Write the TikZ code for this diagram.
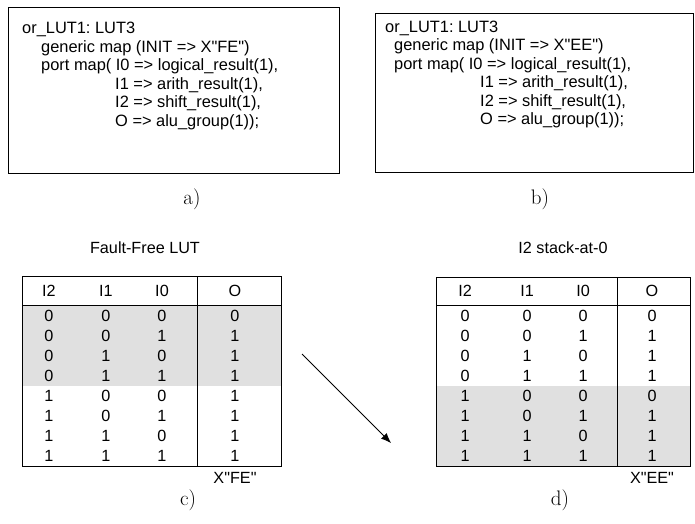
\documentclass[tikz,border=0pt]{standalone}
\usepackage{fontspec}
\usetikzlibrary{arrows.meta}
\newfontfamily\arialfont{Liberation Sans}
\frenchspacing
\tikzstyle{codebox}=[shape=rectangle,draw=black,line width=0.8pt,inner sep=0pt]
\tikzstyle{code}=[anchor=base west,inner sep=0pt,font=\arialfont\fontsize{16.4}{19}\selectfont]

\begin{document}
\begin{tikzpicture}[x=1pt,y=-1pt]
\tikzstyle{cell}=[inner sep=0pt,font=\arialfont\fontsize{16.2}{19}\selectfont]
\tikzstyle{caption}=[inner sep=0pt,font=\fontsize{21}{24}\selectfont]
\tikzstyle{lut}=[draw=black,line width=0.8pt]
\tikzstyle{faulty}=[fill=black!12]
\useasboundingbox (0,0) rectangle (695,523);
% code boxes
\node[codebox,minimum width=331pt,minimum height=166pt] (boxA) at (173.5,90) {};
\node[code] (a1) at (22,33.5) {or\_LUT1: LUT3};
\node[code] (a2) at (41,52) {generic map (INIT => X"FE")};
\node[code] (a3) at (41,70.5) {port map( I0 => logical\_result(1),};
\node[code] (a4) at (115,89) {I1 => arith\_result(1),};
\node[code] (a5) at (115,107.5) {I2 => shift\_result(1),};
\node[code] (a6) at (115,126) {O => alu\_group(1));};
\node[caption] (capA) at (192,199) {a)};
\node[codebox,minimum width=318pt,minimum height=159pt] (boxB) at (534,92.5) {};
\node[code] (b1) at (385,32) {or\_LUT1: LUT3};
\node[code] (b2) at (394,50.5) {generic map (INIT => X"EE")};
\node[code] (b3) at (394,69) {port map( I0 => logical\_result(1),};
\node[code] (b4) at (480,87.5) {I1 => arith\_result(1),};
\node[code] (b5) at (480,106) {I2 => shift\_result(1),};
\node[code] (b6) at (480,124.5) {O => alu\_group(1));};
\node[caption] (capB) at (540,199) {b)};
% fault-free table
\node[cell] (titleC) at (145,248) {Fault-Free LUT};
\fill[faulty] (22,305) rectangle (281,386);
\draw[lut] (22,276) rectangle (281,466);
\draw[lut] (22,305) -- (281,305);
\draw[lut] (197,276) -- (197,466);
\node[cell] (hC2) at (49,291) {I2};
\node[cell] (hC1) at (106,291) {I1};
\node[cell] (hC0) at (162,291) {I0};
\node[cell] (hCo) at (235,291) {O};
\foreach \x/\y/\z/\o [count=\r] in {0/0/0/0,0/0/1/1,0/1/0/1,0/1/1/1,1/0/0/1,1/0/1/1,1/1/0/1,1/1/1/1} {
  \node[cell] (c\r i2) at (49,296+\r*20) {\x};
  \node[cell] (c\r i1) at (106,296+\r*20) {\y};
  \node[cell] (c\r i0) at (162,296+\r*20) {\z};
  \node[cell] (c\r o) at (235,296+\r*20) {\o};
}
\node[cell] (initC) at (235,477.5) {X"FE"};
\node[caption] (capC) at (188,500) {c)};
% stuck-at table
\node[cell] (titleD) at (563,248) {I2 stack-at-0};
\fill[faulty] (436,386) rectangle (690,466);
\draw[lut] (436,277) rectangle (690,466);
\draw[lut] (436,305) -- (690,305);
\draw[lut] (617,277) -- (617,466);
\node[cell] (hD2) at (465,291) {I2};
\node[cell] (hD1) at (527,291) {I1};
\node[cell] (hD0) at (583,291) {I0};
\node[cell] (hDo) at (652,291) {O};
\foreach \x/\y/\z/\o [count=\r] in {0/0/0/0,0/0/1/1,0/1/0/1,0/1/1/1,1/0/0/0,1/0/1/1,1/1/0/1,1/1/1/1} {
  \node[cell] (d\r i2) at (465,296+\r*20) {\x};
  \node[cell] (d\r i1) at (527,296+\r*20) {\y};
  \node[cell] (d\r i0) at (583,296+\r*20) {\z};
  \node[cell] (d\r o) at (652,296+\r*20) {\o};
}
\node[cell] (initD) at (652,477.5) {X"EE"};
\node[caption] (capD) at (560,500) {d)};
% arrow
\coordinate (arrS) at (302,354);
\coordinate (arrE) at (391,443);
\draw[line width=0.8pt,-{Latex[length=10pt,width=8pt]}] (arrS) -- (arrE);
\end{tikzpicture}
\end{document}
